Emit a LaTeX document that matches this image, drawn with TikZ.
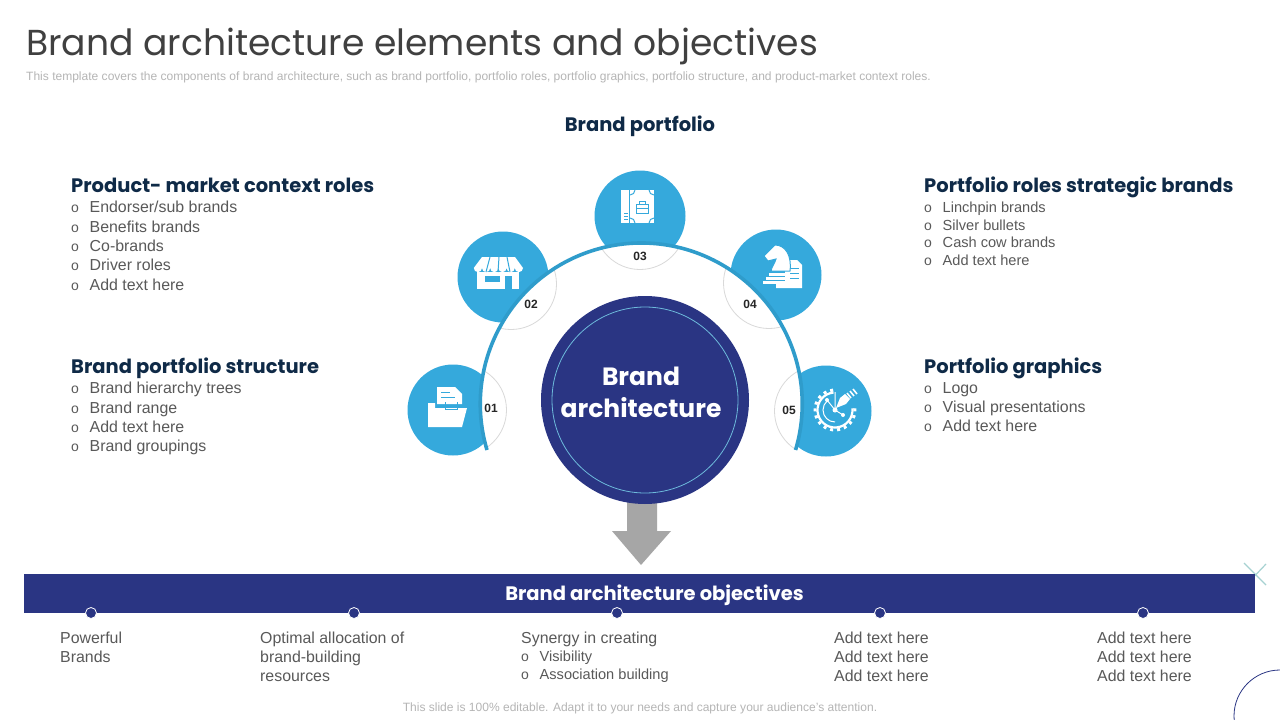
\documentclass[tikz,border=0pt]{standalone}
\usepackage{fontspec}
\usepackage{tikz}
\usetikzlibrary{positioning}
\setmainfont{Liberation Sans}
\newfontfamily\headfont{Poppins}
\definecolor{navy}{HTML}{2A3583}
\definecolor{sky}{HTML}{35A9DC}
\definecolor{arcblue}{HTML}{2F9CCB}
\definecolor{inkhead}{HTML}{0F2A47}
\definecolor{inkbody}{HTML}{595959}
\definecolor{inknote}{HTML}{B5B5B5}
\newcommand{\bul}{\makebox[18.5pt][l]{\fontsize{14}{13}\selectfont o}}

\begin{document}
\begin{tikzpicture}[x=1pt, y=-1pt, >=stealth]
\tikzstyle{head} = [inner sep=0pt, anchor=base west, text height=14pt, text depth=5pt, text=inkhead, font=\headfont\bfseries\fontsize{19.5}{24}\selectfont]
\tikzstyle{items} = [inner sep=0pt, anchor=north west, align=left, text=inkbody, font=\fontsize{15.9}{19.3}\selectfont]
\tikzstyle{smallitems} = [inner sep=0pt, anchor=north west, align=left, text=inkbody, font=\fontsize{14.6}{17.7}\selectfont]
\tikzstyle{ball} = [circle, fill=sky, minimum size=91pt, inner sep=0pt]
\tikzstyle{ring} = [circle, draw=black!15, line width=0.8pt, minimum size=91pt, inner sep=0pt]
\tikzstyle{num} = [inner sep=0pt, text=black!85, font=\bfseries\fontsize{12}{12}\selectfont]
\tikzstyle{dot} = [circle, fill=navy, draw=white, line width=0.8pt, minimum size=11pt, inner sep=0pt]
\tikzstyle{icon} = [fill=white, draw=none]
\tikzstyle{cut} = [draw=sky, line width=1pt]

\useasboundingbox (0,0) rectangle (1280,720);
\fill [white] (0,0) rectangle (1280,720);

% title block
\node [inner sep=0pt, anchor=base west, text=black!75, font=\headfont\fontsize{36.1}{40}\selectfont] (T) at (26,55) {Brand architecture elements and objectives};
\node [inner sep=0pt, anchor=base west, text=inknote, font=\fontsize{12.03}{14}\selectfont] (S) at (26,80) {This template covers the components of brand architecture, such as brand portfolio, portfolio roles, portfolio graphics, portfolio structure, and product-market context roles.};
\node [head, anchor=base] (P) at (640,131) {Brand portfolio};

% icon discs
\node [ball] (C1) at (453,410) {};
\node [ball] (C2) at (503,277) {};
\node [ball] (C3) at (640,216) {};
\node [ball] (C4) at (776,275) {};
\node [ball] (C5) at (826,411) {};

% arc disc wipes the inner side of the discs
\fill [white] (641,404) circle (160);
\begin{scope}
\clip (641,404) circle (160);
\node [ring] (R1) at (461,410) {};
\node [ring] (R2) at (511,284) {};
\node [ring] (R3) at (640,224) {};
\node [ring] (R4) at (769,283) {};
\node [ring] (R5) at (820,411) {};
\end{scope}
\draw [arcblue, line width=3.6pt] (487,450) arc (163.4:376.6:161);

\node [num] (N1) at (491,408) {01};
\node [num] (N2) at (531,304) {02};
\node [num] (N3) at (640,256) {03};
\node [num] (N4) at (750,304) {04};
\node [num] (N5) at (789,410) {05};

% arrow below the hub
\fill [black!35] (627,495) -- (657,495) -- (657,531) -- (671,531) -- (641,565) -- (612,531) -- (627,531) -- cycle;

% hub
\node [circle, fill=navy, minimum size=208pt, inner sep=0pt] (H) at (645,400) {};
\draw [arcblue!70!white, line width=0.8pt] (H.center) circle (93);
\node [inner sep=0pt, align=center, text=white, font=\headfont\bfseries\fontsize{25}{32}\selectfont] (HT) at (641,392) {Brand\\architecture};

% icon 1
\fill [icon] (437,387) -- (455,387) -- (462,394) -- (462,404) -- (437,404) -- cycle;
\fill [icon] (428,403) -- (435,403) -- (435,408) -- (467,408) -- (462,427) -- (428,427) -- cycle;
\draw [cut] (445,402) -- (445,409) -- (457,409) -- (457,402);
\draw [cut] (441,392) -- (450,392) (441,397) -- (455,397);
% icon 2
\fill [icon] (482,257) -- (515,257) -- (523,268) arc (0:180:4.1) arc (0:180:4.1) arc (0:180:4.1) arc (0:180:4.1) arc (0:180:4.1) arc (0:180:4.1) -- cycle;
\fill [icon] (477,272) -- (519,272) -- (519,289) -- (477,289) -- cycle;
\draw [cut] (490,257) -- (486,272) (499,257) -- (498,272) (507,257) -- (510,272);
\fill [sky] (485,276) rectangle (500,282);
\fill [sky] (505,276) rectangle (512,289);
% icon 3
\fill [icon] (621,190) rectangle (654,223);
\draw [cut] (629.5,190) -- (629.5,223);
\draw [cut] (624,213) -- (628,213) (624,216) -- (628,216) (624,219) -- (628,219);
\draw [cut] (636,204) rectangle (648,213);
\draw [cut] (639,204) -- (639,201) -- (645,201) -- (645,204) (636,208) -- (648,208);
\draw [cut] (635,190) arc (0:90:5) (649,190) arc (180:90:5) (635,223) arc (0:-90:5) (649,223) arc (180:270:5);
% icon 4
\fill [icon] (785,260) -- (797,260) -- (802,265) -- (802,288) -- (776,288) -- (776,284) -- (785,284) -- cycle;
\draw [cut] (790,268) -- (799,268) (790,273) -- (799,273) (790,278) -- (799,278);
\draw [sky, fill=white, line width=1pt] (764,256) -- (772,248) -- (775,245) .. controls (785,245) and (792,255) .. (790,271) -- (771,271) .. controls (772,266) and (775,263) .. (776,259) -- (768,261) -- cycle;
\fill [icon] (769,273) rectangle (787,275.5);
\fill [icon] (766,277) rectangle (789,279.5);
\fill [icon] (763,281) rectangle (789,284);
% icon 5
\draw [white, line width=2.2pt] ([shift=(-5:17.5)]835,410) arc (-5:265:17.5);
\draw [white, line width=3pt, dash pattern=on 3pt off 4pt] ([shift=(-5:20)]835,410) arc (-5:265:20);
\draw [white, line width=1pt] ([shift=(90:12)]835,410) arc (90:230:12);
\draw [white, line width=1pt] (835,410) -- (827,400) (835,410) -- (843,415) (835,410) -- (835,392);
\fill [white] (835,410) circle (2.5) (827,400) circle (2) (843,415) circle (2);
\fill [icon] (836,408) -- (840,398) -- (845,394) -- (850,399) -- (846,404) -- cycle;
\draw [white, line width=1.6pt] (847,393) -- (851,398) (850,391) -- (854,396) (853,389) -- (857,394);

% text blocks, left
\node [head] (A) at (71,192.5) {Product- market context roles};
\node [items, below=3.5pt of A.south west, anchor=north west] (A1) {\bul Endorser/sub brands\\\bul Benefits brands\\\bul Co-brands\\\bul Driver roles\\\bul Add text here};
\node [head] (B) at (71,373.5) {Brand portfolio structure};
\node [items, below=3.5pt of B.south west, anchor=north west] (B1) {\bul Brand hierarchy trees\\\bul Brand range\\\bul Add text here\\\bul Brand groupings};
% text blocks, right
\node [head] (D) at (924,192.5) {Portfolio roles strategic brands};
\node [smallitems, below=4pt of D.south west, anchor=north west] (D1) {\bul Linchpin brands\\\bul Silver bullets\\\bul Cash cow brands\\\bul Add text here};
\node [head] (E) at (924,373.5) {Portfolio graphics};
\node [items, below=3.5pt of E.south west, anchor=north west] (E1) {\bul Logo\\\bul Visual presentations\\\bul Add text here};

% corner marks
\draw [teal!35, line width=1.2pt] (1244,563) -- (1266,585) (1266,564) -- (1247,584);
\draw [navy, line width=0.8pt] (1280,716) circle (46);

% objectives band
\node [rectangle, fill=navy, minimum width=1231pt, minimum height=39pt, inner sep=0pt, anchor=north west] (O) at (24,574) {};
\node [head, anchor=base, text=white] (OT) at (654.5,600) {Brand architecture objectives};
\node [dot] (O1) at (91,613) {};
\node [dot] (O2) at (354,613) {};
\node [dot] (O3) at (617,613) {};
\node [dot] (O4) at (880,613) {};
\node [dot] (O5) at (1143,613) {};

\node [items] (X1) at (60,631.5) {Powerful\\Brands};
\node [items] (X2) at (260,631.5) {Optimal allocation of\\brand-building\\resources};
\node [items] (X3) at (521,631.5) {Synergy in creating};
\node [smallitems] (X3a) at (521,651) {\bul Visibility\\\bul Association building};
\node [items] (X4) at (834,631.5) {Add text here\\Add text here\\Add text here};
\node [items] (X5) at (1097,631.5) {Add text here\\Add text here\\Add text here};

\node [inner sep=0pt, anchor=base, text=inknote, font=\fontsize{12.03}{14}\selectfont] (F) at (640,711) {This slide is 100\% editable. Adapt it to your needs and capture your audience's attention.};
\end{tikzpicture}
\end{document}
